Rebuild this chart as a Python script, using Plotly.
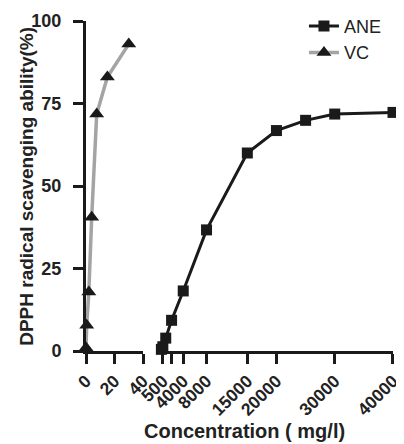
import plotly.graph_objects as go

# Data
vc_conc = [0, 0.5, 2, 4, 7.5, 15, 30]
vc_scav = [1.0, 7.8, 17.9, 40.5, 71.8, 83.0, 93.0]

ane_conc = [250, 500, 1000, 2000, 4000, 8000, 15000, 20000, 25000, 30000, 40000]
ane_scav = [0.5, 1.3, 3.9, 9.3, 18.2, 36.7, 60.0, 66.8, 69.9, 71.8, 72.3]

left_ticks = [0, 20, 40]
right_ticks = [500, 2000, 4000, 8000, 15000, 20000, 30000, 40000]
right_labels = ["500", "", "4000", "8000", "15000", "20000", "30000", "40000"]
y_ticks = [0, 25, 50, 75, 100]

FONT = "Liberation Sans, Arial, sans-serif"
INK = "#1a1a1a"

fig = go.Figure()
fig.add_trace(go.Scatter(
    x=ane_conc, y=ane_scav, name="ANE", xaxis="x2", yaxis="y",
    mode="lines+markers",
    line=dict(color=INK, width=3),
    marker=dict(symbol="square", size=11, color=INK),
    cliponaxis=False,
))
fig.add_trace(go.Scatter(
    x=vc_conc, y=vc_scav, name="VC", xaxis="x", yaxis="y",
    mode="lines+markers",
    line=dict(color="#a4a4a4", width=3.5),
    marker=dict(symbol="triangle-up", size=13, color=INK),
    cliponaxis=False,
))

axis_common = dict(
    showgrid=False, zeroline=False, showline=True, linecolor=INK, linewidth=3,
    ticks="outside", ticklen=10, tickwidth=3, tickcolor=INK, automargin=False,
    ticklabeloverflow="allow",
)
xfont = dict(family=FONT, size=17.5, color="#222", weight="bold")
yfont = dict(family=FONT, size=18, color="#222", weight="bold")

# page body has an 8px margin, so the figure is sized to fit the window
fig.update_layout(
    width=396, height=436,
    margin=dict(l=78, r=11, t=13, b=93, autoexpand=False),
    paper_bgcolor="white", plot_bgcolor="white",
    showlegend=True,
    legend=dict(x=0.71, y=1.04, xanchor="left", yanchor="top",
                font=dict(family=FONT, size=18, color="#222"),
                bgcolor="rgba(0,0,0,0)", tracegroupgap=0),
    xaxis=dict(domain=[0, 0.1857], range=[0, 40], tickvals=left_ticks,
               tickangle=-45, anchor="y", tickfont=xfont, **axis_common),
    xaxis2=dict(domain=[0.2313, 1.0], range=[-500, 40000], tickvals=right_ticks,
                ticktext=right_labels, tickangle=-45, anchor="y", tickfont=xfont,
                **axis_common),
    yaxis=dict(range=[0, 100], tickvals=y_ticks, anchor="x", tickfont=yfont,
               ticklabelstandoff=8, **axis_common),
    annotations=[
        dict(text="DPPH radical scavenging ability(%)", xref="paper", yref="paper",
             x=-0.196, y=0.5, xanchor="center", yanchor="middle", textangle=-90,
             showarrow=False,
             font=dict(family=FONT, size=19, color="#222", weight="bold")),
        dict(text="Concentration ( mg/l)", xref="paper", yref="paper",
             x=0.515, y=-0.243, xanchor="center", yanchor="middle",
             showarrow=False,
             font=dict(family=FONT, size=20, color="#222", weight="bold")),
    ],
)

fig.write_html("out.html")
